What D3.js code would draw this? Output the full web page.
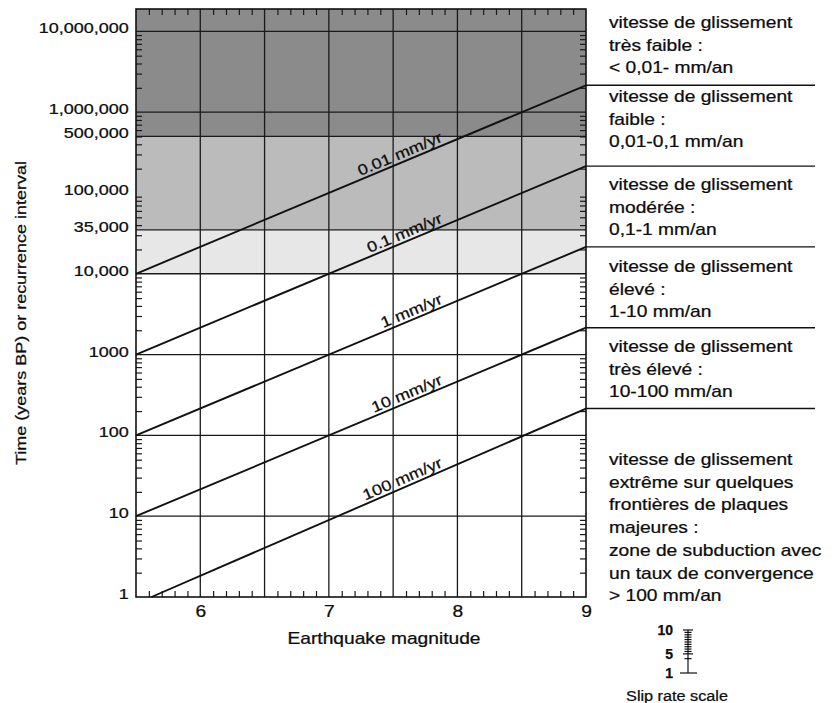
<!DOCTYPE html>
<html><head><meta charset="utf-8">
<script src="https://cdn.jsdelivr.net/npm/d3@7"></script>
<style>
body{margin:0;background:#fff}
svg{display:block}
text{font-family:"Liberation Sans",Arial,Helvetica,sans-serif;fill:#0d0d0d;stroke:#0d0d0d;stroke-width:0.25px}
</style>
</head><body>
<svg id="chart" width="835" height="703"></svg>
<script>
// ---------------- data ----------------
const magnitudeDomain = [5.5, 9];
const timeDomain = [1, 18900000];
const yTickValues = [1, 10, 100, 1000, 10000, 35000, 100000, 500000, 1000000, 10000000];
const yTickLabels = ["1", "10", "100", "1000", "10,000", "35,000", "100,000", "500,000", "1,000,000", "10,000,000"];
const yGridValues = [10, 100, 1000, 10000, 35000, 500000, 1000000, 10000000];
const xTickValues = [6, 7, 8, 9];
const xTickLabels = ["6", "7", "8", "9"];
const xGridValues = [6, 6.5, 7, 7.5, 8, 8.5];
const bandUpper = [18900000, 500000, 35000];
const bandLower = [500000, 35000, 10000];
const rateLabels = ["0.01 mm/yr", "0.1 mm/yr", "1 mm/yr", "10 mm/yr", "100 mm/yr"];
const lineStartMag = [5.5, 5.5, 5.5, 5.5, 5.62];
const lineStartTime = [10000, 1000, 100, 10, 1];
const lineEndMag = [9, 9, 9, 9, 9];
const lineEndTime = [2150000, 215000, 21500, 2150, 215];
const labelMag = 7.9;
const classTexts = [
  ["vitesse de glissement", "très faible :", "< 0,01- mm/an"],
  ["vitesse de glissement", "faible :", "0,01-0,1 mm/an"],
  ["vitesse de glissement", "modérée :", "0,1-1 mm/an"],
  ["vitesse de glissement", "élevé :", "1-10 mm/an"],
  ["vitesse de glissement", "très élevé :", "10-100 mm/an"],
  ["vitesse de glissement", "extrême sur quelques", "frontières de plaques", "majeures :", "zone de subduction avec", "un taux de convergence", "> 100 mm/an"]
];
const xTitle = "Earthquake magnitude";
const yTitle = "Time (years BP) or recurrence interval";
const slipScaleDomain = [1, 10];
const slipScaleTicks = [4, 5, 5.5, 6, 6.5, 7, 7.5, 8, 8.5, 9, 9.5, 10];
const slipScaleLabelValues = [10, 5, 1];
const slipScaleTitle = "Slip rate scale";

// ---------------- layout ----------------
const L = 136, R = 586, T = 9, B = 597;
const SX = 1.2; // horizontal stretch of lettering
const svg = d3.select("#chart");
const x = d3.scaleLinear().domain(magnitudeDomain).range([L, R]);
const y = d3.scaleLog().domain(timeDomain).range([B, T]);

// bands
const bandFill = ["#8b8b8b", "#bbbbbb", "#e7e7e7"];
svg.append("g").selectAll("rect").data(bandUpper).join("rect")
  .attr("x", L).attr("width", R - L)
  .attr("y", d => y(d))
  .attr("height", (d, i) => y(bandLower[i]) - y(d))
  .attr("fill", (d, i) => bandFill[i]);

// grid
const grid = svg.append("g").attr("stroke", "#1a1a1a").attr("stroke-width", 1.3);
grid.selectAll("line.h").data(yGridValues).join("line").attr("class", "h")
  .attr("x1", L).attr("x2", R).attr("y1", d => y(d)).attr("y2", d => y(d));
grid.selectAll("line.v").data(xGridValues).join("line").attr("class", "v")
  .attr("y1", T).attr("y2", B).attr("x1", d => x(d)).attr("x2", d => x(d));

// minor ticks
const xMinor = d3.range(56, 90).filter(v => v % 5 !== 0).map(v => v / 10);
const yMinor = [];
for (let e = 0; e <= 7; e++) for (let k = 2; k <= 9; k++) {
  const v = k * Math.pow(10, e);
  if (v < timeDomain[1]) yMinor.push(v);
}
function styleTicks(g) {
  g.select(".domain").remove();
  g.selectAll(".tick line").attr("stroke", "#1a1a1a").attr("stroke-width", 1.2);
}
svg.append("g").attr("transform", `translate(0,${T})`)
  .call(d3.axisTop(x).tickValues(xMinor).tickSize(-6).tickFormat("")).call(styleTicks);
svg.append("g").attr("transform", `translate(0,${B})`)
  .call(d3.axisBottom(x).tickValues(xMinor).tickSize(-6).tickFormat("")).call(styleTicks);
svg.append("g").attr("transform", `translate(${L},0)`)
  .call(d3.axisLeft(y).tickValues(yMinor).tickSize(-6).tickFormat("")).call(styleTicks);
svg.append("g").attr("transform", `translate(${R},0)`)
  .call(d3.axisRight(y).tickValues(yMinor).tickSize(-6).tickFormat("")).call(styleTicks);

// slip-rate lines
const lineGen = d3.line().x(d => x(d[0])).y(d => y(d[1]));
const lineData = rateLabels.map((lab, i) => ({
  label: lab,
  pts: [[lineStartMag[i], lineStartTime[i]], [lineEndMag[i], lineEndTime[i]]]
}));
svg.append("g").selectAll("path").data(lineData).join("path")
  .attr("d", d => lineGen(d.pts))
  .attr("fill", "none").attr("stroke", "#111").attr("stroke-width", 1.9);

// line labels
lineData.forEach(d => {
  const [[m0, t0], [m1, t1]] = d.pts;
  const f = (labelMag - m0) / (m1 - m0);
  const tl = Math.pow(10, Math.log10(t0) + f * (Math.log10(t1) - Math.log10(t0)));
  const ang = Math.atan2(y(t1) - y(t0), x(m1) - x(m0)) * 180 / Math.PI;
  svg.append("text")
    .attr("transform", `translate(${x(labelMag)},${y(tl)}) rotate(${ang}) scale(${SX},1)`)
    .attr("y", -3.5).attr("text-anchor", "end")
    .attr("font-size", 15).text(d.label);
});

// frame
svg.append("rect").attr("x", L).attr("y", T).attr("width", R - L).attr("height", B - T)
  .attr("fill", "none").attr("stroke", "#111").attr("stroke-width", 1.6);

// y tick labels
const yAx = svg.append("g").attr("transform", `translate(${L},0)`)
  .call(d3.axisLeft(y).tickValues(yTickValues).tickSize(0).tickPadding(6)
    .tickFormat((d, i) => yTickLabels[yTickValues.indexOf(d)]));
yAx.select(".domain").remove();
yAx.selectAll("text").attr("font-size", 15).attr("font-family", null).attr("fill", null)
  .attr("dy", "0.1em").attr("transform", `scale(${SX},1)`);

// x tick labels
const xAx = svg.append("g").attr("transform", `translate(0,${B})`)
  .call(d3.axisBottom(x).tickValues(xTickValues).tickSize(0).tickPadding(9)
    .tickFormat(d => xTickLabels[xTickValues.indexOf(d)]));
xAx.select(".domain").remove();
xAx.selectAll("text").attr("font-size", 16).attr("font-family", null).attr("fill", null)
  .attr("transform", `scale(${SX},1)`);

// axis titles
svg.append("text").attr("transform", `translate(384,644) scale(${SX},1)`)
  .attr("text-anchor", "middle").attr("font-size", 16).text(xTitle);
svg.append("text").attr("transform", `translate(26,313) rotate(-90) scale(${SX},1)`)
  .attr("text-anchor", "middle").attr("font-size", 15).text(yTitle);

// right-hand separators
svg.append("g").selectAll("line").data(lineEndTime).join("line")
  .attr("x1", R).attr("x2", 815)
  .attr("y1", d => y(d)).attr("y2", d => y(d))
  .attr("stroke", "#111").attr("stroke-width", 1.4);

// class descriptions
const blockStart = [28, 102, 190, 272, 352, 465];
const lineStep = 22.7;
classTexts.forEach((lines, bi) => {
  lines.forEach((s, li) => {
    svg.append("text")
      .attr("transform", `translate(609,${blockStart[bi] + li * lineStep}) scale(${SX},1)`)
      .attr("font-size", 16).text(s);
  });
});

// slip rate scale
const sy = d3.scaleLinear().domain(slipScaleDomain).range([673, 630]);
const sx = 688;
const sg = svg.append("g").attr("stroke", "#111").attr("stroke-width", 1.2);
sg.append("line").attr("x1", sx).attr("x2", sx).attr("y1", sy(1)).attr("y2", sy(10));
sg.append("line").attr("x1", sx - 8).attr("x2", sx + 9).attr("y1", sy(1)).attr("y2", sy(1));
sg.selectAll("line.t").data(slipScaleTicks).join("line").attr("class", "t")
  .attr("x1", d => sx - (d === 5 || d === 10 ? 5 : 3.5))
  .attr("x2", d => sx + (d === 5 || d === 10 ? 5 : 3.5))
  .attr("y1", d => sy(d)).attr("y2", d => sy(d));
svg.append("g").selectAll("text").data(slipScaleLabelValues).join("text")
  .attr("x", 673).attr("y", d => sy(d) + 5)
  .attr("text-anchor", "end").attr("font-size", 14).attr("font-weight", "bold")
  .text(d => d);
svg.append("text").attr("transform", `translate(677,701) scale(1.12,1)`)
  .attr("text-anchor", "middle").attr("font-size", 14.5).text(slipScaleTitle);
</script>
</body></html>
